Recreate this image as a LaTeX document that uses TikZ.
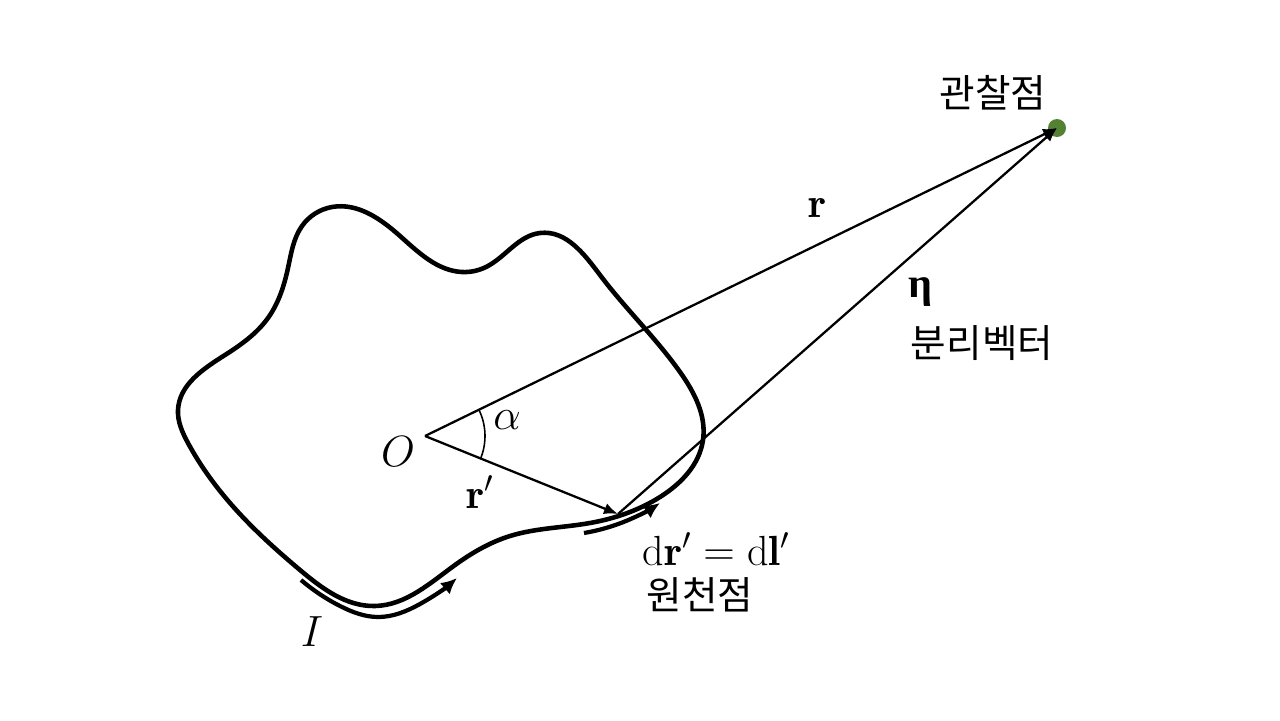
\documentclass[tikz,border=0pt]{standalone}
\usepackage{fontspec}
\newfontfamily\kr{Noto Sans CJK KR}
\newfontfamily\grk{Liberation Serif}
\usetikzlibrary{arrows.meta,angles,hobby}
\definecolor{obsgreen}{RGB}{84,130,53}

\begin{document}
\begin{tikzpicture}[x=0.02cm,y=-0.02cm]
	\tikzstyle{Loop}	= [line width=2.6pt, line join=round]
	\tikzstyle{Vec}		= [line width=1.3pt, -{Latex[length=2.8mm,width=2.3mm]}]
	\tikzstyle{Current}	= [line width=2.4pt, -{Latex[length=3.2mm,width=3mm]}, use Hobby shortcut]
	\tikzstyle{Math}	= [font=\fontsize{24}{28}\selectfont, inner sep=1pt]
	\tikzstyle{Hangul}	= [font=\kr\fontsize{22}{26}\selectfont, inner sep=1pt]
	\tikzstyle{Point}	= [circle, fill=obsgreen, minimum size=3.6mm, inner sep=0pt]

	\useasboundingbox (0,0) rectangle (1280,720);

	% the current loop
	\draw[Loop, use Hobby shortcut, closed=true]
		(178,410) .. (225,355) .. (268,318) .. (288,268) .. (302,226) .. (332,207)
		.. (400,236) .. (462,272) .. (486,267) .. (540,233) .. (600,275) .. (680,372)
		.. (703,440) .. (660,497) .. (590,523) .. (510,536) .. (455,565) .. (375,606)
		.. (300,570) .. (230,503) .. (188,443);

	% current direction
	\draw[Current] (301,580) .. (340,606) .. (378,617) .. (420,604) .. (457,578);
	\draw[Current] (584,533) .. (626,521) .. (660,503);

	% points
	\coordinate (O) at (425,436);
	\coordinate (src) at (618,514);
	\node (obs) at (1057,128) [Point] {};

	% vectors
	\draw[Vec] (O) -- (obs.center);
	\draw[Vec] (O) -- (src);
	\draw[Vec] (src) -- (obs.center);
	\pic [draw, line width=0.9pt, angle radius=1.2cm] {angle=src--O--obs};

	% labels
	\node (Olab) at (398,452) [Math] {$O$};
	\node (alab) at (507,420) [Math] {$\alpha$};
	\node (rlab) at (818,208) [Math] {$\mathbf{r}$};
	\node (rplab) at (480,492) [Math] {$\mathbf{r}'$};
	\node (etalab) at (920,292) [Math] {\grk\bfseries η};
	\node (dllab) at (716,549) [Math] {$\mathrm{d}\mathbf{r}' = \mathrm{d}\mathbf{l}'$};
	\node (Ilab) at (312,632) [Math] {$I$};
	\node (obslab) at (993,93) [Hangul] {관찰점};
	\node (seplab) at (982,343) [Hangul] {분리벡터};
	\node (srclab) at (700,595) [Hangul] {원천점};
\end{tikzpicture}
\end{document}
